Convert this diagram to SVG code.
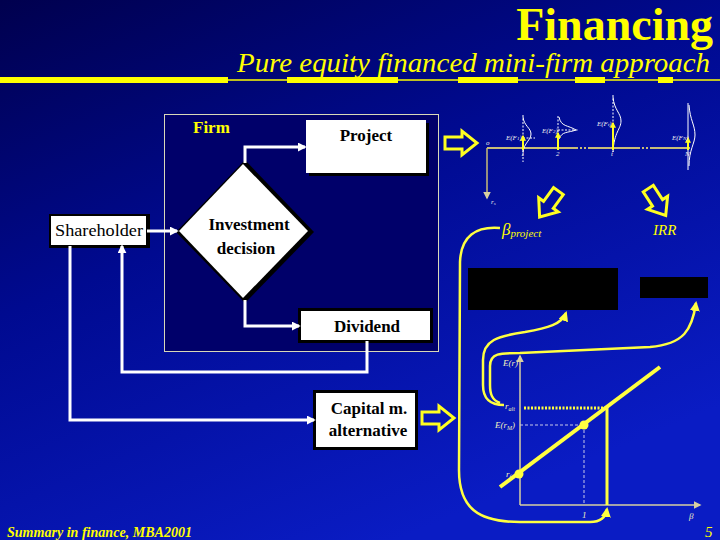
<svg xmlns="http://www.w3.org/2000/svg" width="720" height="540" viewBox="0 0 720 540">
<defs>
<linearGradient id="bg" x1="0" y1="0" x2="0.55" y2="1">
<stop offset="0" stop-color="#00004e"/>
<stop offset="0.45" stop-color="#000a90"/>
<stop offset="1" stop-color="#0a1cc4"/>
</linearGradient>
<marker id="wa" viewBox="0 0 10 10" refX="8" refY="5" markerWidth="3" markerHeight="3" orient="auto" markerUnits="strokeWidth">
<path d="M0,0 L10,5 L0,10 z" fill="#ffffff"/>
</marker>
<marker id="ya" viewBox="0 0 10 10" refX="8" refY="5" markerWidth="4" markerHeight="4" orient="auto" markerUnits="strokeWidth">
<path d="M0,0 L10,5 L0,10 z" fill="#ffff40"/>
</marker>
<marker id="ta" viewBox="0 0 10 10" refX="8" refY="5" markerWidth="5" markerHeight="5" orient="auto" markerUnits="strokeWidth">
<path d="M0,0 L10,5 L0,10 z" fill="#d8d0a0"/>
</marker>
<marker id="ua" viewBox="0 0 10 10" refX="8" refY="5" markerWidth="3" markerHeight="3" orient="auto" markerUnits="strokeWidth">
<path d="M0,0 L10,5 L0,10 z" fill="#ffff20"/>
</marker>
<path id="hollow" d="M-16,-6 L1,-6 L1,-12 L16,0 L1,12 L1,6 L-16,6 Z"/>
</defs>
<style>
.node { fill:#ffffff; }
.shadow { fill:#000000; }
.lbl { font-family:"Liberation Serif","Times New Roman",serif; font-weight:bold; font-size:17px; fill:#000000; text-anchor:middle; }
.lbln { font-family:"Liberation Serif","Times New Roman",serif; font-weight:normal; font-size:16px; fill:#000000; }
.wire { fill:none; stroke:#ffffff; stroke-width:3; marker-end:url(#wa); }
.ycurve { fill:none; stroke:#ffff40; stroke-width:2.5; marker-end:url(#ya); }
.hollow { fill:none; stroke:#ffff20; stroke-width:3; stroke-linejoin:miter; }
.small { font-family:"Liberation Serif","Times New Roman",serif; font-style:italic; font-size:9px; fill:#f0f0c0; }
.tiny { font-family:"Liberation Serif","Times New Roman",serif; font-style:italic; font-size:7px; fill:#f0f0f0; }
.dist { fill:none; stroke:#ffffff; stroke-width:1; }
.distd { fill:none; stroke:#ffffff; stroke-width:1; stroke-dasharray:2,1.5; }
.ytext { font-family:"Liberation Serif","Times New Roman",serif; fill:#ffff00; }
</style>
<rect x="0" y="0" width="720" height="540" fill="url(#bg)"/>

<g id="title">
<text class="ytext" x="713" y="40" font-size="46" font-weight="bold" text-anchor="end">Financing</text>
<text class="ytext" x="237" y="72" font-size="28" font-style="italic" textLength="473" lengthAdjust="spacingAndGlyphs">Pure equity financed mini-firm approach</text>
<line x1="0" y1="80" x2="720" y2="80" stroke="#ffff00" stroke-width="1.5"/>
<g stroke="#ffff00" stroke-width="6">
<line x1="0" y1="80" x2="228" y2="80"/>
<line x1="287" y1="80" x2="398" y2="80"/>
<line x1="458" y1="80" x2="518" y2="80"/>
<line x1="575" y1="80" x2="605" y2="80"/>
<line x1="658" y1="80" x2="673" y2="80"/>
</g>
</g>

<g id="firm">
<rect x="164.5" y="114.5" width="274" height="237" fill="#00006a" stroke="#d8d8b8" stroke-width="1"/>
<text class="ytext" x="193" y="133" font-size="17" font-weight="bold">Firm</text>
</g>

<g id="project">
<rect class="shadow" x="309" y="123" width="120" height="53"/>
<rect class="node" x="306" y="120" width="120" height="53"/>
<text class="lbl" x="366" y="141">Project</text>
</g>

<g id="decision">
<polygon class="shadow" points="245,160 314,232 245,303 176,232"/>
<polygon class="node" points="243,164 308,231 243,298 179,231"/>
<text class="lbl" x="249" y="230">Investment</text>
<text class="lbl" x="246" y="254">decision</text>
</g>

<g id="shareholder">
<rect class="shadow" x="49" y="214" width="101" height="34"/>
<rect class="node" x="51" y="216" width="95" height="29"/>
<text class="lbln" x="55" y="236" textLength="88" lengthAdjust="spacingAndGlyphs">Shareholder</text>
</g>

<g id="dividend">
<rect class="shadow" x="298" y="308" width="135" height="35"/>
<rect class="node" x="301" y="311" width="129" height="29"/>
<text class="lbl" x="367" y="332">Dividend</text>
</g>

<g id="capital">
<rect class="shadow" x="313" y="390" width="105" height="60"/>
<rect class="node" x="316" y="393" width="99" height="54"/>
<text class="lbl" x="369" y="414">Capital m.</text>
<text class="lbl" x="368" y="436">alternative</text>
</g>

<g id="connectors">
<path class="wire" d="M147,231 H177"/>
<path class="wire" d="M245,163 V147 H305"/>
<path class="wire" d="M245,300 V326 H299"/>
<path class="wire" d="M367,341 V372 H122 V246"/>
<path class="wire" d="M70,246 V420 H314"/>
<path class="ycurve" d="M500,228 C476,226 461,236 460,262 L459,470 C459,508 478,522 520,522 L590,522 C602,522 606,516 607,509"/>
<path class="ycurve" d="M504,405 C490,405 483,399 483,385 L483,360 C483,340 498,336 525,332 C548,328 562,324 566,313"/>
<path class="ycurve" d="M500,403 C492,400 490,394 490,385 L490,366 C490,353 500,353 520,353 L650,347 C684,344 692,330 696,303"/>
</g>

<g id="hollow-arrows">
<use href="#hollow" class="hollow" transform="translate(461,143)"/>
<use href="#hollow" class="hollow" transform="translate(438,418)"/>
<use href="#hollow" class="hollow" transform="translate(549,204) rotate(126)"/>
<use href="#hollow" class="hollow" transform="translate(657,202) rotate(57)"/>
</g>

<g id="timeline">
<g stroke="#c8bc78" stroke-width="2" fill="none">
<path d="M487,148 H576 M590,148 H638 M652,148 H690"/>
<path d="M576,148 H590 M638,148 H652" stroke-dasharray="2,2"/>
<line x1="487" y1="148" x2="487" y2="198" stroke-width="1.5" marker-end="url(#ta)"/>
</g>
<text class="tiny" x="486" y="145">o</text>
<text class="tiny" x="491" y="204">r<tspan font-size="5" dy="1">s</tspan></text>
<path class="distd" d="M523,115 V162 M523,138 H535"/>
<path class="dist" d="M523,117 C524,126 531,128 531,134 C531,140 524,143 523,152"/>
<path class="distd" d="M558,116 V140 M558,130 H578"/>
<path class="dist" d="M559,117 C561,127 568,125 576,130 C568,133 562,131 559,139"/>
<path class="distd" d="M613,95 V152"/>
<path class="dist" d="M613,97 C614,110 621,113 621,121 C621,129 614,132 613,152"/>
<path class="dist" d="M688,103 V170"/>
<path class="dist" d="M689,105 C690,120 695,125 695,135 C695,143 689,150 689,166"/>
<g stroke="#ffff20" stroke-width="2" fill="none">
<line x1="523" y1="150" x2="523" y2="136" marker-end="url(#ua)"/>
<line x1="558" y1="150" x2="558" y2="133" marker-end="url(#ua)"/>
<line x1="613" y1="150" x2="613" y2="123" marker-end="url(#ua)"/>
<line x1="688" y1="150" x2="688" y2="138" marker-end="url(#ua)"/>
</g>
<text class="tiny" x="506" y="140">E(F<tspan font-size="5">1</tspan>)</text>
<text class="tiny" x="542" y="133">E(F<tspan font-size="5">2</tspan>)</text>
<text class="tiny" x="597" y="126">E(F<tspan font-size="5">t</tspan>)</text>
<text class="tiny" x="672" y="140">E(F<tspan font-size="5">N</tspan>)</text>
<text class="tiny" x="521" y="156">1</text>
<text class="tiny" x="556" y="156">2</text>
<text class="tiny" x="611" y="156">t</text>
<text class="tiny" x="685" y="156">N</text>
</g>

<g id="labels">
<text class="ytext" x="502" y="235" font-size="17" font-style="italic">β<tspan font-size="11" dy="2">project</tspan></text>
<text class="ytext" x="653" y="235" font-size="15" font-style="italic">IRR</text>
<rect x="468" y="268" width="150" height="42" fill="#000000"/>
<rect x="640" y="277" width="68" height="21" fill="#000000"/>
</g>

<g id="chart">
<line x1="520" y1="505" x2="520" y2="356" stroke="#d8d0a0" stroke-width="1.5" marker-end="url(#ta)"/>
<line x1="520" y1="505" x2="700" y2="505" stroke="#d8d0a0" stroke-width="1.5" marker-end="url(#ta)"/>
<line x1="520" y1="425" x2="584" y2="425" stroke="#c8c8e8" stroke-width="1" stroke-dasharray="3,2"/>
<line x1="584" y1="425" x2="584" y2="505" stroke="#c8c8e8" stroke-width="1" stroke-dasharray="3,2"/>
<line x1="524" y1="408" x2="607" y2="408" stroke="#ffff40" stroke-width="3" stroke-dasharray="2,1.5"/>
<line x1="607" y1="407" x2="607" y2="505" stroke="#ffff40" stroke-width="3"/>
<line x1="500" y1="487" x2="660" y2="367" stroke="#ffff40" stroke-width="4"/>
<circle cx="519" cy="474" r="4.5" fill="#ffff40"/>
<circle cx="584" cy="425" r="4.5" fill="#ffff40"/>
<text class="small" x="503" y="366">E(r)</text>
<text class="small" x="505" y="409">r<tspan font-size="6" dy="2">alt</tspan></text>
<text class="small" x="495" y="428">E(r<tspan font-size="6" dy="2">M</tspan><tspan dy="-2">)</tspan></text>
<text class="small" x="506" y="477">r<tspan font-size="6" dy="2">f</tspan></text>
<text class="small" x="582" y="518">1</text>
<text class="small" x="689" y="519" font-size="11">β</text>
</g>

<g id="footer">
<text class="ytext" x="7" y="537" font-size="15" font-style="italic" font-weight="bold" textLength="185" lengthAdjust="spacingAndGlyphs">Summary in finance, MBA2001</text>
<text class="ytext" x="705" y="537" font-size="15" font-style="italic">5</text>
</g>
</svg>
